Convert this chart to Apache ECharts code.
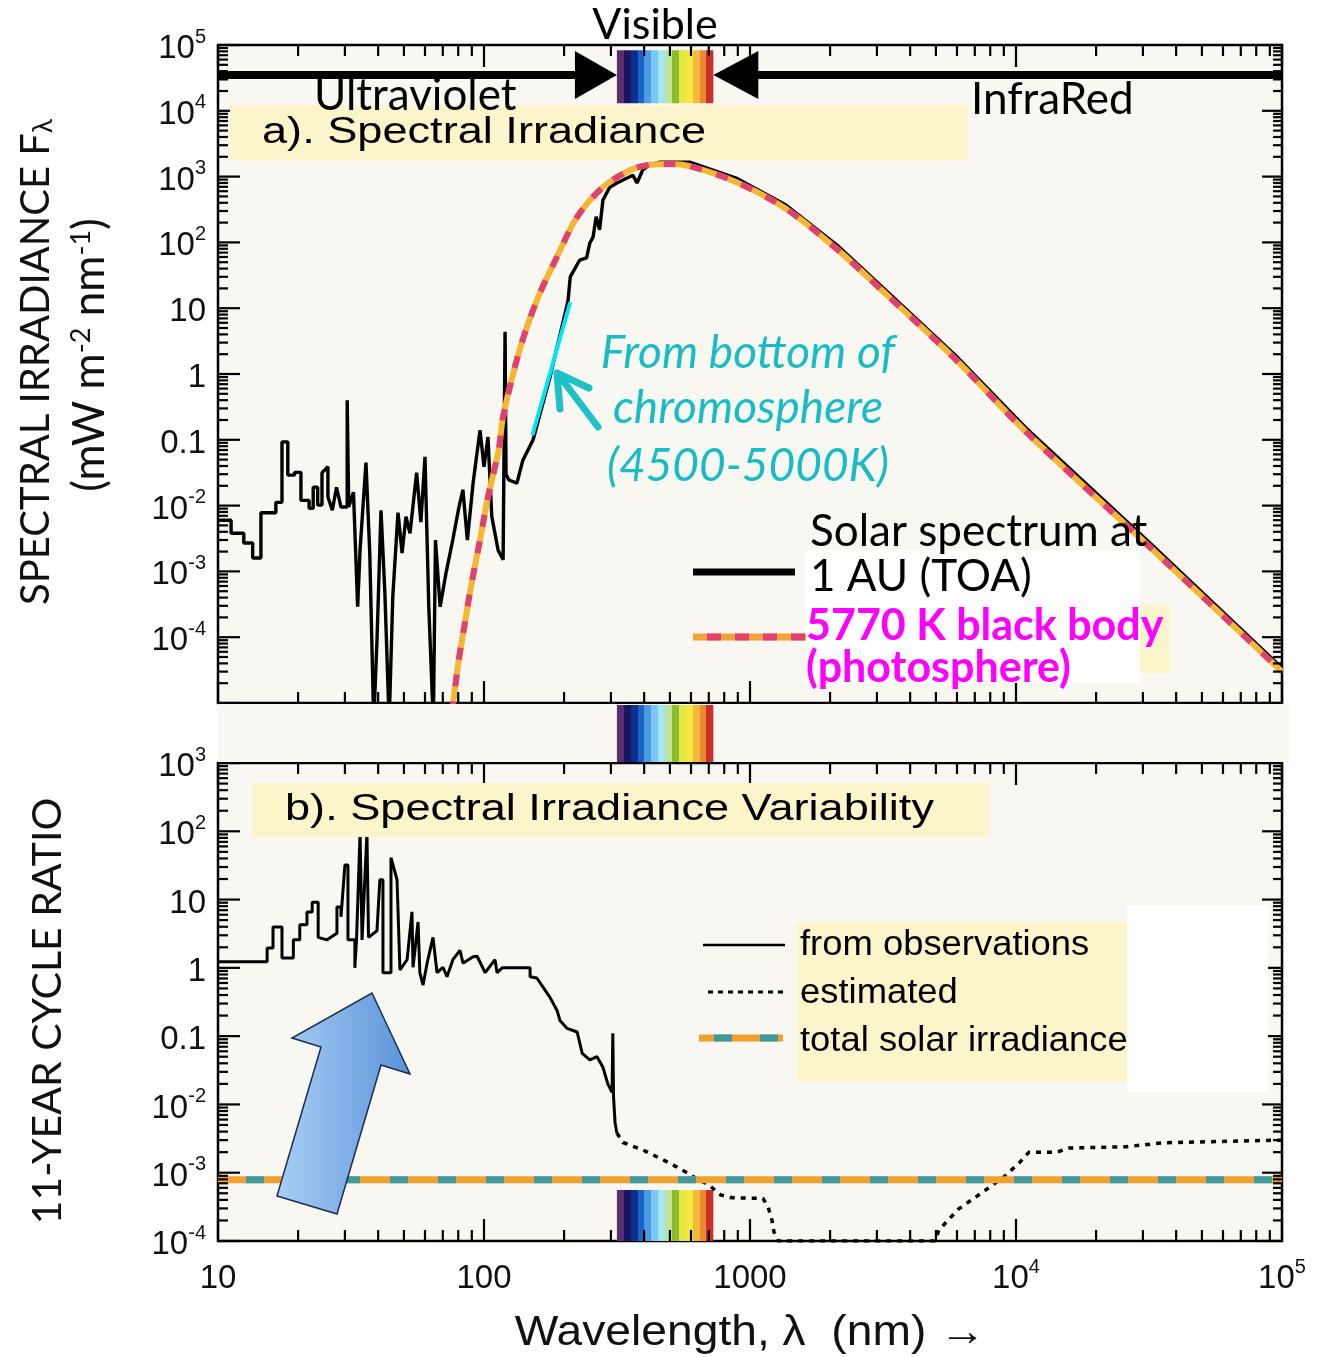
<!DOCTYPE html>
<html>
<head>
<meta charset="utf-8">
<script src="https://cdn.jsdelivr.net/npm/echarts@6/dist/echarts.min.js"></script>
<style>
  html, body { margin: 0; padding: 0; background: #fff; }
  #main { width: 1323px; height: 1357px; }
</style>
</head>
<body>
<div id="main"></div>
<script>
// ---- data ----
// a) solar spectrum at 1 AU (wavelength nm, mW m-2 nm-1)
var topObsX = [10, 11.2, 11.2, 12.5, 12.5, 13.5, 13.5, 14.5, 14.5, 16.5,
  16.5, 17.4, 17.4, 18.3, 18.3, 19.4, 19.4, 20.5, 20.5, 22.0,
  22.0, 22.8, 22.8, 23.7, 23.7, 24.6, 24.6, 25.9, 25.9, 26.9,
  27.9, 29, 30.6, 30.6, 31, 31, 32.3, 33.5, 34.2, 36,
  37.2, 38.5, 39.6, 41, 42.4, 44, 45.4, 47.5, 49.2, 50.9,
  52.7, 55.8, 57.9, 60, 62, 64.5, 65.7, 68.4, 72, 76.3,
  80.5, 83.3, 86.6, 91, 96.6, 100, 103.5, 107, 113, 118,
  120, 121, 124, 133, 140, 153, 177, 207, 211, 229,
  243, 250, 257, 264, 272, 280, 297, 316, 345, 363,
  376, 395, 420, 459, 593, 886, 1365, 2122, 3275, 5900,
  10900, 31300, 100000];
var topObsY = [6.0e-3, 6.0e-3, 3.8e-3, 3.8e-3, 2.7e-3, 2.7e-3, 1.6e-3, 1.6e-3, 7.8e-3, 7.8e-3,
  0.0112, 0.0112, 0.093, 0.093, 0.029, 0.029, 0.032, 0.032, 0.012, 0.012,
  0.0091, 0.0091, 0.019, 0.019, 0.0102, 0.0102, 0.0316, 0.039, 0.0135, 0.0085,
  0.019, 0.0095, 0.0095, 0.40, 0.40, 0.0095, 0.016, 2.9e-4, 2.1e-3, 0.045,
  1.9e-3, 5e-6, 9e-5, 8.5e-3, 4.7e-4, 5e-6, 4.1e-4, 7.8e-3, 1.9e-3, 6.8e-3,
  3.8e-3, 0.0316, 5.6e-3, 0.055, 2.9e-4, 5e-6, 3.0e-3, 2.9e-4, 9.5e-4, 3.0e-3,
  9.5e-3, 0.0174, 3.0e-3, 0.022, 0.14, 0.039, 0.11, 6.8e-3, 2.1e-3, 1.5e-3,
  4.4, 0.03, 0.0245, 0.022, 0.049, 0.10, 0.89, 13, 30, 54,
  58, 98, 120, 245, 155, 440, 690, 800, 950, 1050,
  800, 1260, 1510, 1660, 1660, 950, 370, 91, 18, 1.95,
  0.151, 2.9e-3, 3.4e-5];

// 5770 K black body
var bbX = [75.7, 80.4, 84.8, 89.3, 96.6, 103.5, 113.5, 118, 136, 158, 188, 224, 280,
  355, 420, 500, 593, 886, 1365, 2122, 3275, 5900, 10900, 31300, 100000];
var bbY = [7e-6, 4.5e-5, 1.66e-4, 5.8e-4, 3.0e-3, 0.0135, 0.069, 0.224, 2.3, 13.2, 60, 245, 690,
  1260, 1510, 1550, 1440, 830, 325, 79, 15.8, 1.7, 0.132, 2.5e-3, 3.0e-5];

// chromosphere segment
var chromoX = [152, 211];
var chromoY = [0.117, 12.3];

// b) 11-year cycle ratio, from observations
var varObsX = [10, 15.3, 15.3, 16.1, 16.1, 17.4, 17.4, 19.2, 19.2, 20.3,
  20.3, 21.6, 21.6, 22.6, 22.6, 23.8, 23.8, 25.7, 28, 28,
  29, 29, 30, 30.8, 30.8, 32.7, 32.7, 33.2, 34.2, 34.8,
  36.3, 36.8, 39.6, 40.6, 41.7, 41.7, 44.7, 44.7, 47.1, 48.3,
  51.4, 53.6, 54.1, 56.5, 57.4, 59, 61.1, 64.3, 66.6, 70.1,
  72.6, 76.4, 81.2, 83.4, 90.9, 94.2, 101, 110, 112, 117,
  149, 149, 158, 177, 188, 193, 205, 224, 234, 250,
  266, 280, 292, 303, 305, 307, 311, 316];
var varObsY = [1.23, 1.23, 1.95, 1.95, 3.98, 3.98, 1.4, 1.4, 2.57, 2.57,
  4.27, 4.27, 6.6, 6.6, 9.1, 9.1, 2.8, 2.57, 3.2, 7.8,
  7.8, 5.6, 32, 32, 2.57, 2.57, 1.0, 2.8, 95, 2.57,
  95, 2.8, 3.5, 19.5, 19.5, 0.85, 0.85, 41, 19.5, 0.93,
  1.32, 6.6, 1.02, 4.7, 0.85, 0.56, 1.17, 2.8, 0.85, 1.02,
  0.74, 1.32, 1.8, 1.17, 1.45, 1.48, 0.85, 1.32, 0.85, 1.0,
  1.0, 0.74, 0.71, 0.37, 0.24, 0.17, 0.13, 0.115, 0.056, 0.045,
  0.05, 0.035, 0.02, 0.015, 0.11, 0.0126, 0.0054, 0.0038];

// estimated
var estX = [316, 333, 396, 500, 579, 594, 701, 778, 856, 1119, 1169, 1210, 1231, 1275,
  4955, 5135, 6056, 7388, 9010, 10260, 11190, 14260, 15820, 25900, 36000, 100000];
var estY = [0.0038, 0.00277, 0.00215, 0.00138, 0.0010, 9.3e-4, 6.6e-4, 4.7e-4, 4.3e-4, 4.2e-4, 3.2e-4, 2.0e-4, 1.35e-4, 1e-4,
  1e-4, 1.45e-4, 2.9e-4, 5.0e-4, 8.7e-4, 1.38e-3, 2.0e-3, 2.0e-3, 2.3e-3, 2.4e-3, 2.75e-3, 3.0e-3];

// total solar irradiance
var tsiX = [10, 100000];
var tsiY = [7.9e-4, 7.9e-4];

// visible band (nm)
var visibleBand = [316, 728];

// axis ticks
var xDecades = [10, 100, 1000, 10000, 100000];
var yDecadesTop = [1e-5, 1e-4, 1e-3, 1e-2, 0.1, 1, 10, 100, 1000, 1e4, 1e5];
var yDecadesBottom = [1e-4, 1e-3, 1e-2, 0.1, 1, 10, 100, 1000];
var minorSteps = [2, 3, 4, 5, 6, 7, 8, 9];

var rainbow = ['#5a2d6e', '#1a1760', '#0d2f8f', '#1e62c2', '#4b9be6', '#7cc8f2', '#a2e8f4',
  '#bfe39a', '#8fbc2e', '#e2ea46', '#f8e840', '#f4b940', '#ee8a2e', '#c8302a'];

function zip(xs, ys) { return xs.map(function (x, i) { return [x, ys[i]]; }); }

function rainbowGradient() {
  var stops = [];
  rainbow.forEach(function (c, i) {
    stops.push({ offset: i / rainbow.length, color: c });
    stops.push({ offset: (i + 1) / rainbow.length - 0.0001, color: c });
  });
  return new echarts.graphic.LinearGradient(0, 0, 1, 0, stops);
}

function minorOf(decades) {
  var out = [];
  decades.slice(0, -1).forEach(function (d) {
    minorSteps.forEach(function (m) { out.push(d * m); });
  });
  return out;
}

var numFont = '"Liberation Sans", Arial, sans-serif';

function expLabel(v) {
  var e = Math.round(Math.log10(v));
  if (e === 0) return '{b|1}';
  if (e === 1) return '{b|10}';
  if (e === -1) return '{b|0.1}';
  return '{b|10}{s|' + e + '}';
}
function xLabel(v) {
  var e = Math.round(Math.log10(v));
  if (e <= 3) return '{b|' + Math.round(v) + '}';
  return '{b|10}{s|' + e + '}';
}
var labelRich = {
  b: { fontFamily: numFont, fontSize: 33, color: '#111', lineHeight: 36, padding: [8, 0, 0, 0] },
  s: { fontFamily: numFont, fontSize: 20, color: '#111', verticalAlign: 'top', lineHeight: 20 }
};

// ticks drawn inward on all four sides
function tickSeries(gridIndex, yDecades) {
  var xMinor = minorOf(xDecades), yMinor = minorOf(yDecades);
  return {
    type: 'custom', xAxisIndex: gridIndex, yAxisIndex: gridIndex, silent: true, z: 5,
    data: [[xDecades[0], yDecades[0]]],
    renderItem: function (params, api) {
      var cs = params.coordSys, kids = [];
      var top = cs.y, bot = cs.y + cs.height, left = cs.x, right = cs.x + cs.width;
      function ln(x1, y1, x2, y2) {
        kids.push({ type: 'line', shape: { x1: x1, y1: y1, x2: x2, y2: y2 }, style: { stroke: '#000', lineWidth: 2.2 } });
      }
      xDecades.forEach(function (v) { var p = api.coord([v, yDecades[0]])[0]; ln(p, bot, p, bot - 22); ln(p, top, p, top + 22); });
      xMinor.forEach(function (v) { var p = api.coord([v, yDecades[0]])[0]; ln(p, bot, p, bot - 11); ln(p, top, p, top + 11); });
      yDecades.forEach(function (v) { var p = api.coord([xDecades[0], v])[1]; ln(left, p, left + 22, p); ln(right, p, right - 20, p); });
      yMinor.forEach(function (v) { var p = api.coord([xDecades[0], v])[1]; ln(left, p, left + 10, p); ln(right, p, right - 9, p); });
      return { type: 'group', children: kids };
    }
  };
}

var chart = echarts.init(document.getElementById('main'));
var paper = '#f8f7f1';

var option = {
  animation: false,
  backgroundColor: '#fff',
  grid: [
    { left: 218, right: 41, top: 45, height: 658, show: true, backgroundColor: paper, borderColor: '#000', borderWidth: 2.5 },
    { left: 218, right: 41, top: 763, height: 478, show: true, backgroundColor: paper, borderColor: '#000', borderWidth: 2.5 }
  ],
  xAxis: [
    { type: 'log', gridIndex: 0, min: 10, max: 100000, interval: 1,
      axisLine: { show: false }, axisTick: { show: false }, axisLabel: { show: false }, splitLine: { show: false } },
    { type: 'log', gridIndex: 1, min: 10, max: 100000, interval: 1,
      axisLine: { show: false }, axisTick: { show: false }, splitLine: { show: false },
      axisLabel: { margin: 16, formatter: xLabel, rich: labelRich } }
  ],
  yAxis: [
    { type: 'log', gridIndex: 0, min: 1e-5, max: 1e5, interval: 1,
      axisLine: { show: false }, axisTick: { show: false }, splitLine: { show: false },
      axisLabel: { margin: 12, formatter: function (v) { return Math.round(Math.log10(v)) === -5 ? '' : expLabel(v); }, rich: labelRich } },
    { type: 'log', gridIndex: 1, min: 1e-4, max: 1000, interval: 1,
      axisLine: { show: false }, axisTick: { show: false }, splitLine: { show: false },
      axisLabel: { margin: 12, formatter: expLabel, rich: labelRich } }
  ],
  series: [
    tickSeries(0, yDecadesTop),
    { type: 'line', name: 'Solar spectrum at 1 AU (TOA)', xAxisIndex: 0, yAxisIndex: 0, data: zip(topObsX, topObsY),
      showSymbol: false, lineStyle: { color: '#000', width: 3.4 }, z: 3,
      markArea: { silent: true, itemStyle: { color: rainbowGradient() },
        data: [[{ coord: [visibleBand[0], 8.3e4] }, { coord: [visibleBand[1], 1.3e4] }]] } },
    { type: 'line', name: 'bb', xAxisIndex: 0, yAxisIndex: 0, data: zip(bbX, bbY), smooth: 0.3,
      showSymbol: false, lineStyle: { color: '#f4b634', width: 6 }, z: 4 },
    { type: 'line', name: '5770 K black body', xAxisIndex: 0, yAxisIndex: 0, data: zip(bbX, bbY), smooth: 0.3,
      showSymbol: false, lineStyle: { color: '#e0416e', width: 6, type: [12, 15] }, z: 4 },
    { type: 'line', name: 'chromosphere', xAxisIndex: 0, yAxisIndex: 0, data: zip(chromoX, chromoY),
      showSymbol: false, lineStyle: { color: '#00e6f2', width: 4 }, z: 6 },

    tickSeries(1, yDecadesBottom),
    { type: 'line', name: 'from observations', xAxisIndex: 1, yAxisIndex: 1, data: zip(varObsX, varObsY),
      showSymbol: false, lineStyle: { color: '#000', width: 3 }, z: 3,
      markArea: { silent: true, itemStyle: { color: rainbowGradient() },
        data: [[{ coord: [visibleBand[0], 5.6e-4] }, { coord: [visibleBand[1], 1e-4] }]] } },
    { type: 'line', name: 'estimated', xAxisIndex: 1, yAxisIndex: 1, data: zip(estX, estY),
      showSymbol: false, lineStyle: { color: '#000', width: 3.5, type: [5, 6] }, z: 3 },
    { type: 'line', name: 'tsi', xAxisIndex: 1, yAxisIndex: 1, data: zip(tsiX, tsiY),
      showSymbol: false, lineStyle: { color: '#f1a02f', width: 7 }, z: 4 },
    { type: 'line', name: 'total solar irradiance', xAxisIndex: 1, yAxisIndex: 1, data: zip(tsiX, tsiY),
      showSymbol: false, lineStyle: { color: '#3d9a9e', width: 7, type: [18, 30], dashOffset: -28 }, z: 4 }
  ]
};
chart.setOption(option);

// ---- annotations ----
var px = function (v) { return chart.convertToPixel({ xAxisIndex: 0 }, v); };
var vL = px(visibleBand[0]), vR = px(visibleBand[1]);
var lato = 'Lato, "Open Sans", sans-serif';
var arial = '"Liberation Sans", Arial, sans-serif';
var yellow = '#fcf4cb';

function txt(text, x, y, font, fill, align, sx, rot) {
  return { type: 'text', z: 100, x: x, y: y, scaleX: sx || 1, rotation: rot || 0,
    style: { text: text, x: 0, y: 0, font: font, fill: fill || '#000',
      textAlign: align || 'left', textVerticalAlign: 'middle' } };
}
function rect(x, y, w, h, fill) { return { type: 'rect', z: 99, shape: { x: x, y: y, width: w, height: h }, style: { fill: fill } }; }
function seg(x1, y1, x2, y2, stroke, w, dash, cap) {
  return { type: 'line', z: 101, shape: { x1: x1, y1: y1, x2: x2, y2: y2 },
    style: { stroke: stroke, lineWidth: w, lineDash: dash || null, lineCap: cap || 'butt' } };
}

var graphics = [
  // band between panels
  rect(218, 704, 1072, 58, paper),
  { type: 'rect', z: 100, shape: { x: vL, y: 705, width: vR - vL, height: 57 }, style: { fill: rainbowGradient() } },

  // spectral region arrows
  seg(218, 75, vL - 38, 75, '#000', 8),
  { type: 'polygon', z: 101, shape: { points: [[vL - 42, 51], [vL, 75], [vL - 42, 99]] }, style: { fill: '#000' } },
  seg(vR + 40, 75, 1282, 75, '#000', 8),
  { type: 'polygon', z: 101, shape: { points: [[vR + 45, 51], [vR, 75], [vR + 45, 99]] }, style: { fill: '#000' } },
  txt('Visible', 655, 25, '43px ' + lato, '#000', 'center'),
  rect(230, 105, 738, 55, yellow),
  txt('Ultraviolet', 314, 96, '44px ' + lato),
  txt('InfraRed', 971, 100, '44px ' + lato),
  txt('a). Spectral Irradiance', 262, 133, '37px ' + arial, '#000', 'left', 1.22),

  // chromosphere note
  seg(598, 427, 558, 374, '#20c0c8', 7, null, 'round'),
  { type: 'polyline', z: 101, shape: { points: [[560, 409], [557, 373], [589, 388]] },
    style: { stroke: '#20c0c8', lineWidth: 7, fill: null, lineCap: 'round', lineJoin: 'round' } },
  txt('From bottom of', 748, 353, 'italic 46px ' + lato, '#18bcc4', 'center'),
  txt('chromosphere', 748, 408, 'italic 46px ' + lato, '#18bcc4', 'center'),
  txt('(4500-5000K)', 748, 466, 'italic 46px ' + lato, '#18bcc4', 'center'),

  // top legend
  rect(805, 550, 335, 133, '#ffffff'),
  rect(1140, 605, 30, 68, yellow),
  seg(693, 572, 795, 572, '#000', 7),
  seg(693, 637, 806, 637, '#f0a33a', 7),
  seg(707, 637, 806, 637, '#e0416e', 7, [14, 14]),
  txt('Solar spectrum at', 810, 532, '44px ' + lato),
  txt('1 AU (TOA)', 810, 577, '44px ' + lato),
  txt('5770 K black body', 806, 626, 'bold 43px ' + lato, '#ff00ff'),
  txt('(photosphere)', 806, 668, 'bold 43px ' + lato, '#ff00ff'),

  // bottom panel
  rect(252, 783, 738, 54, yellow),
  txt('b). Spectral Irradiance Variability', 285, 810, '37px ' + arial, '#000', 'left', 1.22),
  rect(1127, 905, 141, 187, '#ffffff'),
  rect(797, 922, 330, 160, yellow),
  seg(703, 945, 785, 945, '#000', 2.5),
  seg(708, 992, 785, 992, '#000', 3, [5, 5]),
  seg(699, 1038, 783, 1038, '#f1a02f', 7),
  seg(714, 1038, 783, 1038, '#3d9a9e', 7, [18, 28]),
  txt('from observations', 800, 945, '35px ' + arial, '#000', 'left', 1.04),
  txt('estimated', 800, 993, '35px ' + arial, '#000', 'left', 1.04),
  txt('total solar irradiance', 800, 1041, '35px ' + arial, '#000', 'left', 1.04),

  // block arrow
  { type: 'polygon', z: 102,
    shape: { points: [[372, 993], [410, 1074], [381, 1065], [337, 1214], [277, 1196], [321, 1047], [292, 1038]] },
    style: { fill: new echarts.graphic.LinearGradient(0, 0, 1, 0, [{ offset: 0, color: '#aacff6' }, { offset: 1, color: '#5a93d9' }]),
      stroke: '#1c2c4c', lineWidth: 1.5 } },

  // axis titles
  { type: 'text', z: 100, x: 36, y: 362, rotation: Math.PI / 2,
    style: { text: '{a|SPECTRAL IRRADIANCE F}{l|λ}', x: 0, y: 0, textAlign: 'center', textVerticalAlign: 'middle',
      rich: { a: { fontFamily: lato, fontSize: 40, fill: '#111' }, l: { fontFamily: lato, fontSize: 26, fill: '#111', padding: [16, 0, 0, 0] } } } },
  { type: 'text', z: 100, x: 90, y: 355, rotation: Math.PI / 2,
    style: { text: '{a|(mW m}{s|-2}{a| nm}{s|-1}{a|)}', x: 0, y: 0, textAlign: 'center', textVerticalAlign: 'middle',
      rich: { a: { fontFamily: lato, fontSize: 44, fill: '#111' }, s: { fontFamily: lato, fontSize: 27, fill: '#111', verticalAlign: 'top' } } } },
  txt('11-YEAR CYCLE RATIO', 48, 1011, '41px ' + lato, '#111', 'center', 1, Math.PI / 2),
  txt('Wavelength, \u03bb  (nm) \u2192', 750, 1333, '42px ' + arial, '#111', 'center', 1.1)
];

chart.setOption({ graphic: graphics });
</script>
</body>
</html>
